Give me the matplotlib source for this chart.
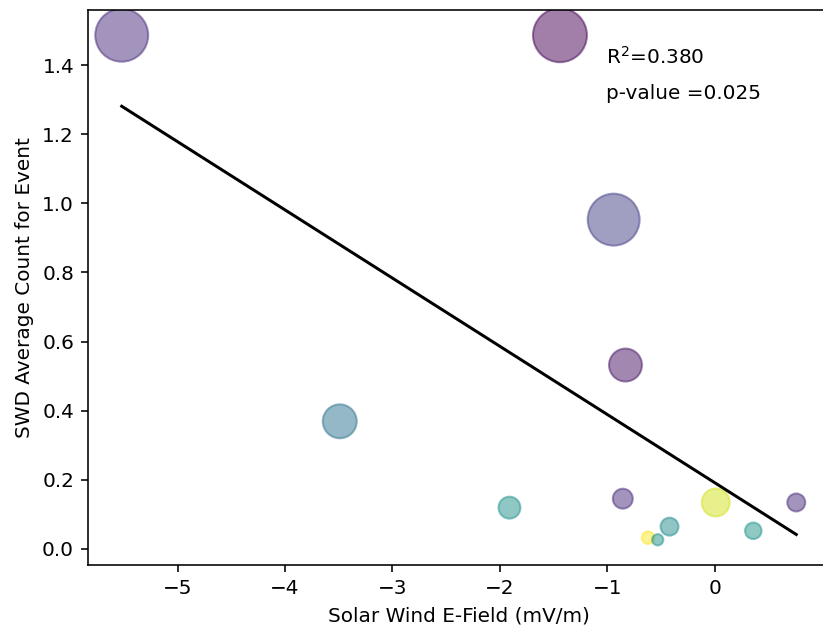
import numpy as np
import matplotlib
matplotlib.use("Agg")
import matplotlib.pyplot as plt


# values
e_field = [-5.52, -1.44, -0.94, -0.83, -3.49, -1.91, -0.855,
           0.01, 0.76, -0.42, 0.36, -0.62, -0.53]
swd_count = [1.487, 1.487, 0.953, 0.532, 0.369, 0.119, 0.145,
             0.134, 0.134, 0.064, 0.052, 0.032, 0.026]
marker_size = [702, 729, 676, 272, 289, 121, 100,
               196, 81, 81, 69, 40, 32]
color_val = [0.12, 0.0, 0.18, 0.05, 0.38, 0.5, 0.12,
             0.93, 0.12, 0.48, 0.52, 1.0, 0.5]
x_ticks = [-5, -4, -3, -2, -1, 0]

r_squared = 0.380
p_value = 0.025


fig = plt.figure(figsize=(823 / 144, 632 / 144), dpi=144)
ax = fig.add_axes([88 / 823, 67 / 632, 742 / 823, 555 / 632])

ax.scatter(
    e_field,
    swd_count,
    s=marker_size,
    c=color_val,
    cmap="viridis",
    vmin=0,
    vmax=1,
    alpha=0.5
)

# linear fit
x = np.array(e_field)
slope, intercept = np.polyfit(x, np.array(swd_count), 1)
fit_x = np.array([x.min(), x.max()])
ax.plot(fit_x, slope * fit_x + intercept, color="black")

ax.text(0.698, 0.915, "R$^2$=%.3f" % r_squared,
        transform=ax.transAxes, va="center", fontsize=10)
ax.text(0.698, 0.850, "p-value =%.3f" % p_value,
        transform=ax.transAxes, va="center", fontsize=10)

ax.set_xticks(x_ticks)
ax.set_xlabel("Solar Wind E-Field (mV/m)")
ax.set_ylabel("SWD Average Count for Event")

fig.savefig("out.png", dpi=144)
